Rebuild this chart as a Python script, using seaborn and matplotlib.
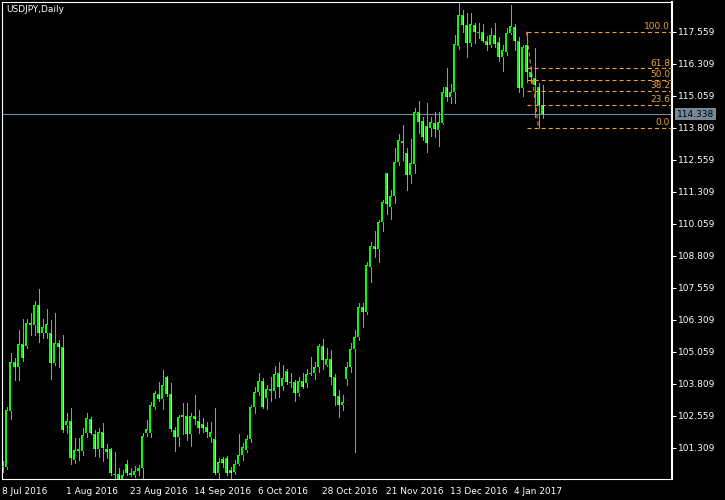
import numpy as np
import matplotlib
matplotlib.use("Agg")
import matplotlib.pyplot as plt
import matplotlib.transforms as mtransforms
import seaborn as sns

# daily OHLC (bar 0 = 8 Jul 2016)
opens = [100.60, 100.54, 102.76, 104.66, 104.45, 105.36, 105.28, 106.10, 106.10, 106.88,
         105.80, 105.80, 105.78, 104.60, 105.39, 105.23, 102.20, 102.37, 100.83, 101.19,
         101.19, 101.87, 102.42, 101.84, 101.24, 101.91, 101.24, 101.24, 100.28, 100.27,
         100.07, 100.66, 100.33, 100.24, 100.41, 100.50, 101.90, 101.90, 102.91, 103.39,
         103.20, 104.06, 103.41, 102.00, 101.71, 102.50, 102.55, 101.83, 102.55, 102.37,
         102.22, 102.10, 101.71, 101.66, 100.31, 100.85, 100.92, 100.44, 100.37, 100.67,
         101.01, 101.22, 101.63, 102.88, 103.47, 103.93, 103.24, 103.59, 103.52, 104.21,
         103.72, 104.32, 103.89, 103.86, 103.43, 103.93, 103.82, 104.19, 104.21, 104.45,
         105.28, 104.54, 104.76, 104.06, 103.33, 102.96, 103.98, 104.45, 105.15, 105.65,
         106.79, 106.62, 108.38, 109.19, 109.06, 110.11, 112.04, 110.72, 111.15, 112.48,
         113.29, 112.81, 111.96, 112.39, 114.41, 114.08, 113.87, 113.81, 113.98, 113.72,
         113.98, 115.38, 115.02, 115.19, 117.01, 118.21, 117.82, 117.10, 117.82, 117.50,
         117.53, 117.21, 117.04, 117.43, 117.17, 116.58, 116.78, 117.49, 117.73, 117.21,
         115.35, 117.04, 116.00, 115.74, 115.41, 114.70]
highs = [100.80, 102.91, 105.02, 104.80, 105.91, 106.32, 106.32, 106.56, 107.05, 107.51,
         106.32, 106.71, 106.30, 106.56, 105.52, 105.71, 102.68, 102.85, 101.67, 101.67,
         102.07, 102.65, 102.52, 102.00, 102.07, 102.26, 101.45, 101.28, 101.15, 100.50,
         100.44, 100.83, 100.50, 100.59, 100.63, 101.87, 102.39, 103.11, 103.54, 103.89,
         104.34, 104.11, 103.82, 102.13, 102.59, 103.04, 103.04, 102.65, 103.37, 102.78,
         102.46, 102.33, 102.33, 102.85, 100.89, 100.96, 100.98, 100.57, 100.83, 101.84,
         101.48, 101.80, 102.98, 103.69, 104.21, 104.02, 103.76, 104.08, 104.50, 104.67,
         104.54, 104.37, 104.21, 103.95, 104.08, 104.21, 104.37, 104.86, 104.67, 105.36,
         105.54, 105.19, 105.12, 104.19, 103.56, 103.37, 104.64, 105.39, 105.91, 106.97,
         106.97, 108.58, 109.33, 109.79, 110.20, 110.98, 112.04, 111.38, 113.00, 113.56,
         113.91, 113.00, 113.35, 114.56, 114.85, 114.21, 114.79, 114.24, 114.42, 114.41,
         115.38, 116.14, 115.52, 117.43, 118.69, 118.41, 118.28, 118.28, 117.91, 117.89,
         117.86, 117.39, 117.69, 117.88, 117.36, 117.04, 117.69, 118.60, 117.85, 117.36,
         117.04, 117.559, 116.19, 116.91, 115.54, 115.48]
lows = [100.37, 100.48, 102.43, 103.95, 103.95, 104.71, 105.20, 105.71, 105.71, 105.45,
        105.58, 105.58, 103.98, 104.54, 104.47, 101.94, 101.90, 100.67, 100.72, 100.83,
        101.02, 101.74, 101.84, 100.98, 100.96, 100.80, 100.89, 100.24, 100.09, 100.05,
        100.07, 100.24, 100.20, 100.18, 100.24, 100.11, 101.77, 101.74, 102.81, 103.15,
        102.81, 103.33, 101.97, 101.19, 101.38, 101.83, 101.61, 101.38, 102.23, 101.87,
        101.91, 101.74, 101.54, 100.28, 100.11, 100.57, 100.24, 100.11, 100.28, 100.63,
        100.83, 101.15, 101.54, 102.65, 103.37, 102.85, 102.81, 103.15, 103.24, 103.30,
        103.56, 103.80, 103.69, 103.15, 103.34, 103.63, 103.69, 104.15, 103.99, 104.25,
        104.37, 104.50, 103.80, 102.98, 102.52, 102.78, 103.74, 104.28, 101.15, 105.52,
        106.04, 106.55, 107.77, 108.77, 108.55, 109.79, 110.44, 110.24, 110.86, 112.35,
        112.55, 111.37, 111.64, 112.03, 113.60, 113.33, 112.87, 113.48, 113.43, 113.11,
        113.95, 114.86, 114.76, 114.79, 116.90, 117.56, 116.58, 117.00, 117.10, 117.30,
        117.17, 116.84, 116.97, 116.97, 116.43, 116.04, 116.65, 117.45, 116.84, 115.22,
        115.05, 115.61, 115.54, 114.24, 113.809, 114.18]
closes = [100.54, 102.78, 104.66, 104.47, 105.36, 104.80, 106.17, 106.17, 106.88, 105.80,
          106.01, 106.13, 104.60, 105.39, 105.26, 102.00, 102.37, 100.89, 101.22, 101.24,
          101.80, 102.46, 101.87, 101.24, 101.91, 101.28, 101.13, 100.31, 100.24, 100.07,
          100.24, 100.31, 100.24, 100.41, 100.50, 101.77, 102.05, 102.98, 103.43, 103.20,
          103.76, 103.41, 102.03, 101.71, 102.50, 102.57, 101.83, 102.55, 102.42, 102.07,
          102.07, 101.91, 101.91, 100.31, 100.74, 100.72, 100.31, 100.31, 100.67, 101.01,
          101.32, 101.64, 102.88, 103.47, 103.93, 102.88, 103.59, 103.52, 104.17, 103.69,
          104.04, 103.86, 103.85, 103.43, 103.93, 103.69, 104.19, 104.21, 104.45, 105.28,
          104.73, 104.76, 104.06, 103.33, 102.96, 103.08, 104.45, 105.15, 105.65, 106.79,
          106.62, 108.45, 109.19, 109.06, 110.11, 110.89, 110.82, 111.14, 112.48, 113.33,
          113.22, 111.96, 112.42, 114.43, 114.04, 113.46, 113.20, 114.02, 113.74, 114.04,
          115.22, 115.02, 115.19, 117.07, 118.21, 117.82, 117.10, 117.86, 117.56, 117.56,
          117.21, 117.04, 117.43, 117.07, 116.56, 116.84, 117.49, 117.78, 117.21, 115.35,
          116.95, 116.00, 115.80, 115.48, 114.70, 114.338]

date_ticks = [0, 16, 32, 48, 64, 80, 96, 112, 128]
date_labels = ["8 Jul 2016", "1 Aug 2016", "23 Aug 2016", "14 Sep 2016", "6 Oct 2016",
               "28 Oct 2016", "21 Nov 2016", "13 Dec 2016", "4 Jan 2017"]
price_ticks = [101.309, 102.559, 103.809, 105.059, 106.309, 107.559, 108.809,
               110.059, 111.309, 112.559, 113.809, 115.059, 116.309, 117.559]

fib_high, fib_low = 117.559, 113.809
fib_high_bar, fib_low_bar = 131, 134
fib_levels = [0.0, 23.6, 38.2, 50.0, 61.8, 100.0]
bid = 114.338

sns.set_theme(style="dark", rc={"axes.facecolor": "black", "figure.facecolor": "black"})
plt.rcParams["font.family"] = ["DejaVu Sans"]
plt.rcParams["lines.scale_dashes"] = False

green = "#00FF00"
orange = "#F0A030"
fsize = 6.5
px_price = 1 / 25.6  # one pixel in price units

fig = plt.figure(figsize=(7.25, 5), dpi=100)
ax = fig.add_axes([2 / 725, 21 / 500, 670 / 725, 477 / 500])
ax.set_facecolor("black")

x = np.arange(len(opens))
o = np.array(opens)
c = np.array(closes)

# wicks
ax.vlines(x, lows, highs, color=green, lw=0.72, antialiased=False, zorder=2)
# bodies: green block, then 1px inner fill (bull black, bear white)
bottoms = np.minimum(o, c)
tops = np.maximum(o, c)
heights = np.maximum(tops - bottoms, px_price)
ax.bar(x, heights, bottom=bottoms, width=0.75, color=green, linewidth=0,
       antialiased=False, zorder=3)
fills = np.array(["black" if cc >= oo else "white" for oo, cc in zip(o, c)])
inner = (tops - bottoms) > 2.5 * px_price
ax.vlines(x[inner], bottoms[inner] + px_price, tops[inner] - px_price,
          colors=list(fills[inner]), lw=0.72, antialiased=False, zorder=4)

ax.set_xlim(-0.125, 167.375)
ax.set_ylim(100.086, 118.719)

# bid line
ax.axhline(bid, color="#778899", lw=0.8, zorder=1)

# fibonacci
span = fib_high - fib_low
ax.plot([fib_high_bar, fib_low_bar], [fib_high, fib_low], color="#D98A20",
        lw=0.8, dashes=(3, 2), zorder=5)
for lv in fib_levels:
    p = fib_low + span * lv / 100
    ax.hlines(p, fib_high_bar, 167.375, colors=orange, lw=0.8,
              linestyles=(0, (2.9, 2.2)), zorder=5)
    ax.annotate(f"{lv:.1f}", xy=(166.9, p), xytext=(0, 2), textcoords="offset points",
                ha="right", va="baseline", color=orange, fontsize=fsize, zorder=6)

# axes styling
for s in ax.spines.values():
    s.set_color("white")
    s.set_linewidth(0.8)
ax.spines["right"].set_linewidth(1.5)

ax.yaxis.tick_right()
ax.set_yticks(price_ticks)
ax.set_yticklabels([f"{v:.3f}" for v in price_ticks])
ax.tick_params(axis="y", colors="white", length=3, width=0.8, pad=1.5,
               labelsize=fsize, direction="out", right=True, left=False)
ax.set_xticks(date_ticks)
ax.set_xticklabels(date_labels, ha="left")
ax.tick_params(axis="x", colors="white", length=4, width=0.8, pad=2,
               labelsize=fsize, direction="out")
ax.grid(False)

# current price label
trans = mtransforms.blended_transform_factory(ax.transAxes, ax.transData)
ax.text(1.0075, bid, f"{bid:.3f}", transform=trans, ha="left", va="center",
        color="black", fontsize=fsize,
        bbox=dict(facecolor="#778899", edgecolor="none", pad=1.2), zorder=7)

fig.text(6 / 725, 1 - 10 / 500, "USDJPY,Daily", color="white", fontsize=fsize,
         ha="left", va="center")

fig.savefig("out.png", dpi=100, facecolor="black")
